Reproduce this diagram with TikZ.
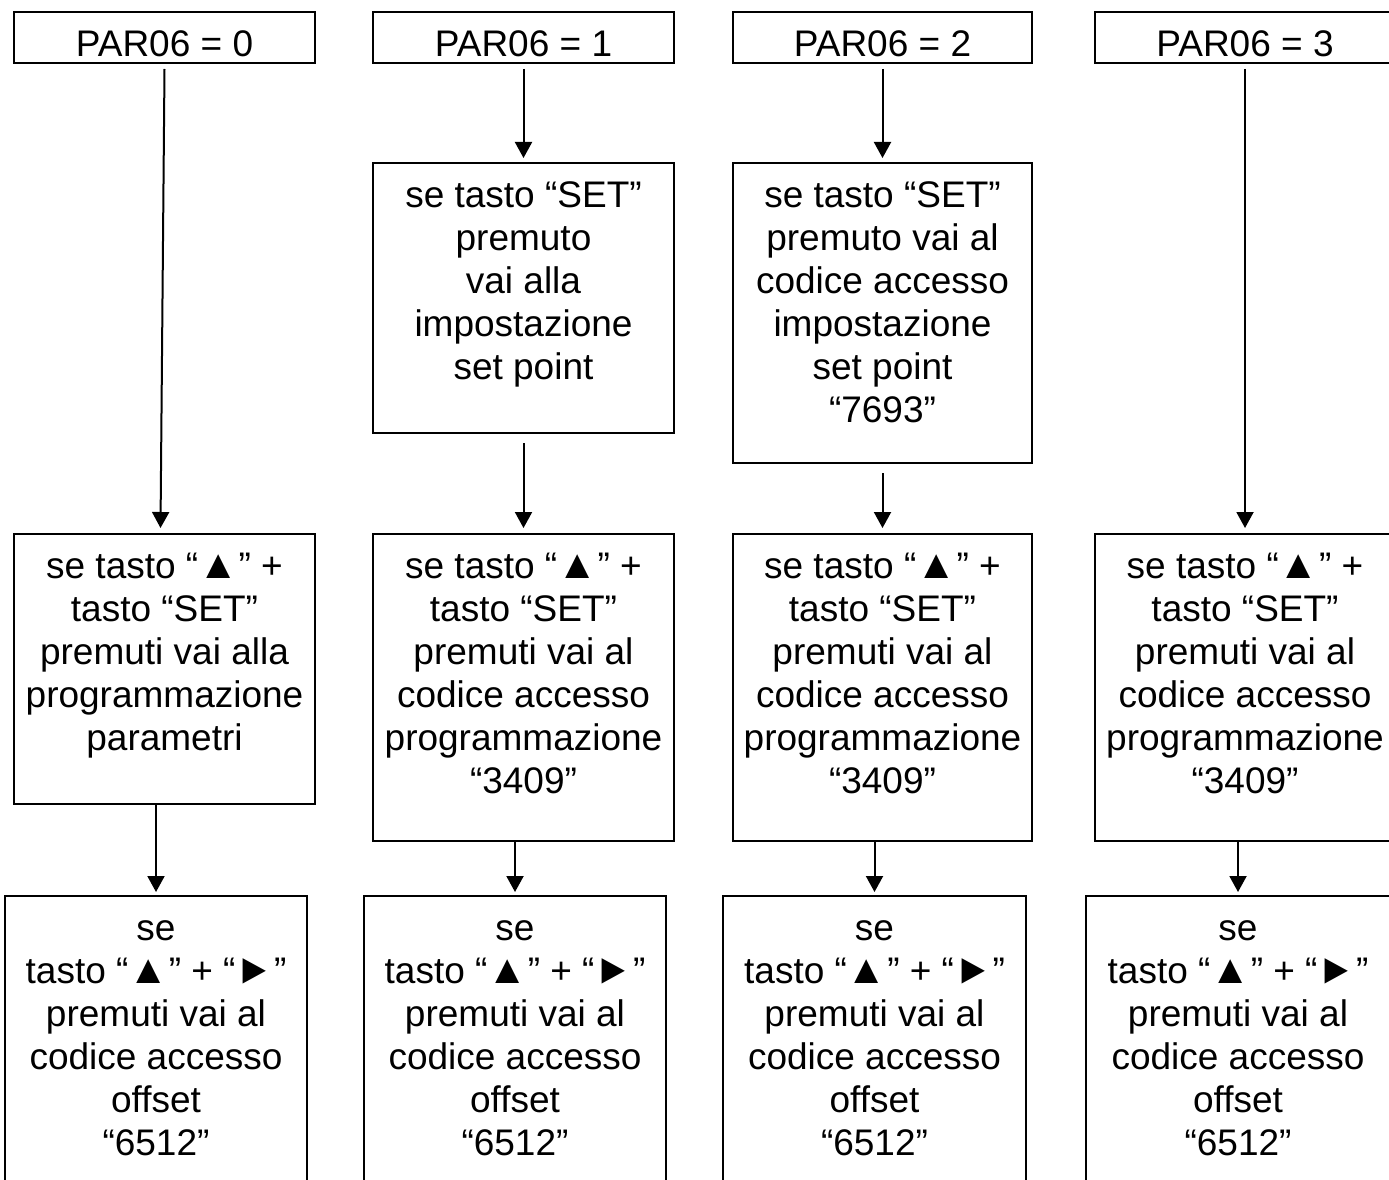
\documentclass[tikz,border=0pt]{standalone}
\usepackage{fontspec}
\usepackage{graphicx}
\setmainfont{Liberation Sans}
\usetikzlibrary{arrows.meta}
\tikzset{
  box/.style={draw, line width=2.4pt, inner sep=0pt, outer sep=0pt, anchor=north west},
  arr/.style={line width=2pt, -{Triangle[width=17pt,length=16pt]}},
}
\newcommand\bx[3]{\parbox[c][#2pt][t]{#1pt}{\centering\fontsize{37}{43}\selectfont\rule{0pt}{44.5pt}#3\par}}
\newcommand\up{\scalebox{1.1}{▲}}
\newcommand\rt{\scalebox{1.05}[1.15]{►}}
\begin{document}
\begin{tikzpicture}[x=1pt,y=-1pt]
\useasboundingbox (0,0) rectangle (1389,1180);
\clip (0,0) rectangle (1389,1180);
% headers
\node[box] (h0) at (14,12)   {\bx{301}{51}{PAR06 = 0}};
\node[box] (h1) at (373,12)  {\bx{301}{51}{PAR06 = 1}};
\node[box] (h2) at (733,12)  {\bx{299}{51}{PAR06 = 2}};
\node[box] (h3) at (1095,12) {\bx{300}{51}{PAR06 = 3}};
% second row
\node[box] (b1) at (373,163) {\bx{301}{270}{se tasto “SET”\\premuto\\vai alla\\impostazione\\set point}};
\node[box] (b2) at (733,163) {\bx{299}{300}{se tasto “SET”\\premuto vai al\\codice accesso\\impostazione\\set point\\“7693”}};
% third row
\node[box] (c0) at (14,534)   {\bx{301}{270}{se tasto “\up” +\\tasto “SET”\\premuti vai alla\\programmazione\\parametri}};
\node[box] (c1) at (373,534)  {\bx{301}{307}{se tasto “\up” +\\tasto “SET”\\premuti vai al\\codice accesso\\programmazione\\“3409”}};
\node[box] (c2) at (733,534)  {\bx{299}{307}{se tasto “\up” +\\tasto “SET”\\premuti vai al\\codice accesso\\programmazione\\“3409”}};
\node[box] (c3) at (1095,534) {\bx{300}{307}{se tasto “\up” +\\tasto “SET”\\premuti vai al\\codice accesso\\programmazione\\“3409”}};
% fourth row
\node[box] (d0) at (5,896)    {\bx{302}{300}{se\\tasto “\up” + “\rt”\\premuti vai al\\codice accesso\\offset\\“6512”}};
\node[box] (d1) at (364,896)  {\bx{302}{300}{se\\tasto “\up” + “\rt”\\premuti vai al\\codice accesso\\offset\\“6512”}};
\node[box] (d2) at (723,896)  {\bx{303}{300}{se\\tasto “\up” + “\rt”\\premuti vai al\\codice accesso\\offset\\“6512”}};
\node[box] (d3) at (1086,896) {\bx{304}{300}{se\\tasto “\up” + “\rt”\\premuti vai al\\codice accesso\\offset\\“6512”}};
% connectors
\draw[arr] ([yshift=-6pt]h0.south) -- ([xshift=-4pt,yshift=6pt]c0.north);
\draw[arr] (c0.south -| d0.north) -- ([yshift=4pt]d0.north);
\draw[arr] ([yshift=-6pt]h1.south) -- ([yshift=5pt]b1.north);
\draw[arr] ([yshift=-10pt]b1.south) -- ([yshift=6pt]c1.north);
\draw[arr] (c1.south -| d1.north) -- ([yshift=4pt]d1.north);
\draw[arr] ([yshift=-6pt]h2.south) -- ([yshift=5pt]b2.north);
\draw[arr] ([yshift=-10pt]b2.south) -- ([yshift=6pt]c2.north);
\draw[arr] (c2.south -| d2.north) -- ([yshift=4pt]d2.north);
\draw[arr] ([yshift=-6pt]h3.south) -- ([yshift=6pt]c3.north);
\draw[arr] (c3.south -| d3.north) -- ([yshift=4pt]d3.north);
\end{tikzpicture}
\end{document}
